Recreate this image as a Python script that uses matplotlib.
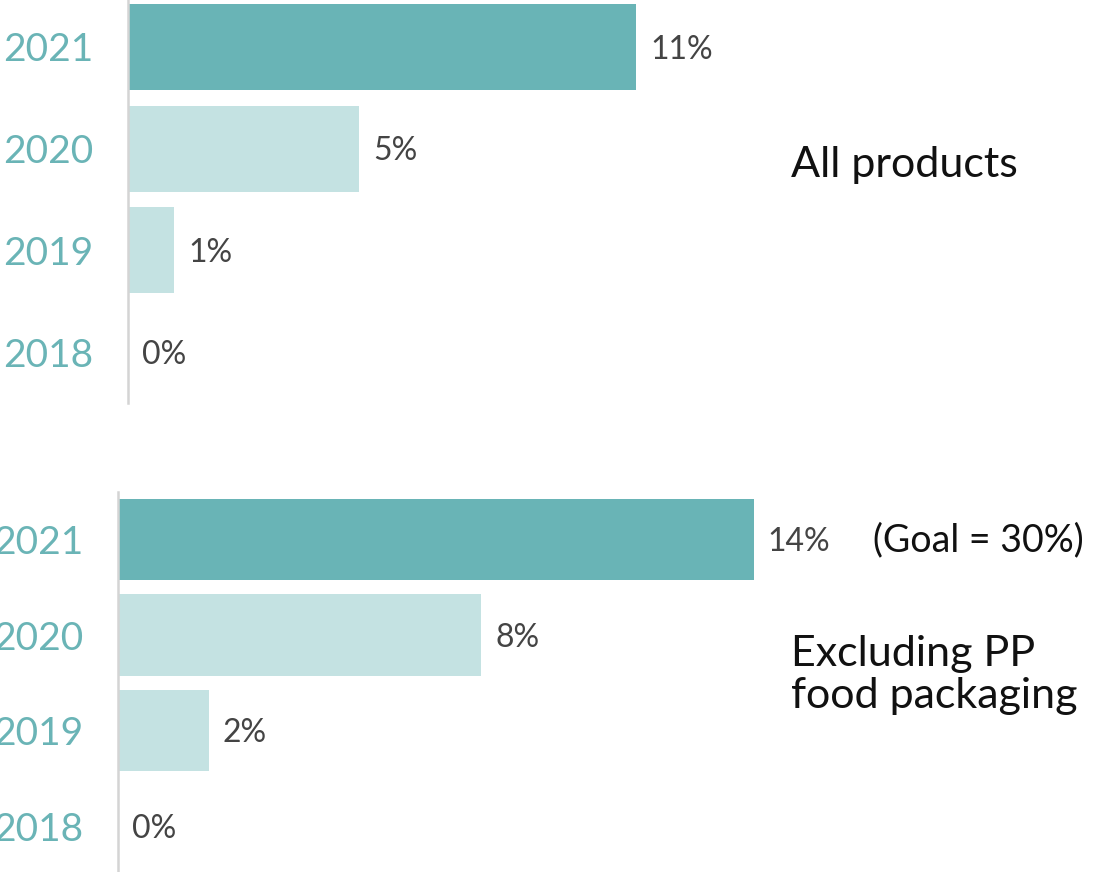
import matplotlib
matplotlib.use("Agg")
import matplotlib.pyplot as plt

plt.rcParams["font.family"] = ["Lato", "DejaVu Sans"]

years = ["2018", "2019", "2020", "2021"]
all_products = [0, 1, 5, 11]
excluding_pp = [0, 2, 8, 14]

DARK = "#69b4b6"
LIGHT = "#c4e2e2"
YEAR_COLOR = "#6ab4b6"
VALUE_COLOR = "#444444"
AXIS_COLOR = "#d4d4d4"

W, H = 1103, 872
fig = plt.figure(figsize=(W / 100, H / 100), dpi=100)
fig.patch.set_facecolor("white")


def px_axes(left, top, right, bottom):
    return fig.add_axes([left / W, 1 - bottom / H, (right - left) / W, (bottom - top) / H])


def draw_panel(ax, values, xmax, ylim, bar_h):
    colors = [LIGHT] * (len(values) - 1) + [DARK]
    ypos = list(range(len(values)))
    ax.barh(ypos, values, height=bar_h, color=colors, zorder=2)
    ax.set_xlim(0, xmax)
    ax.set_ylim(*ylim)
    for s in ["top", "right", "bottom"]:
        ax.spines[s].set_visible(False)
    ax.spines["left"].set_color(AXIS_COLOR)
    ax.spines["left"].set_linewidth(1.8)
    ax.set_xticks([])
    ax.set_yticks(ypos)
    ax.set_yticklabels(years, fontsize=28, color=YEAR_COLOR)
    ax.tick_params(axis="y", length=0, pad=25)
    for y, v in zip(ypos, values):
        ax.annotate(f"{v}%", xy=(v, y), xytext=(10, -2), textcoords="offset points",
                    ha="left", va="center", fontsize=23, color=VALUE_COLOR)


ax1 = px_axes(128, 0, 1103, 403)
draw_panel(ax1, all_products, 975 / 46.2, (-0.50, 3.462), 0.845)
fig.text(791 / W, 1 - 165 / H, "All products", ha="left", va="center",
         fontsize=31, color="#111111")

ax2 = px_axes(118, 492, 1103, 872)
draw_panel(ax2, excluding_pp, 985 / 45.4, (-0.48, 3.497), 0.85)
fig.text(873 / W, 1 - 540 / H, "(Goal = 30%)", ha="left", va="center",
         fontsize=27, color="#111111")
fig.text(791 / W, 1 - 675 / H, "Excluding PP\nfood packaging", ha="left", va="center",
         fontsize=31, color="#111111", linespacing=1.15)

fig.savefig("out.png", dpi=100, facecolor="white")
